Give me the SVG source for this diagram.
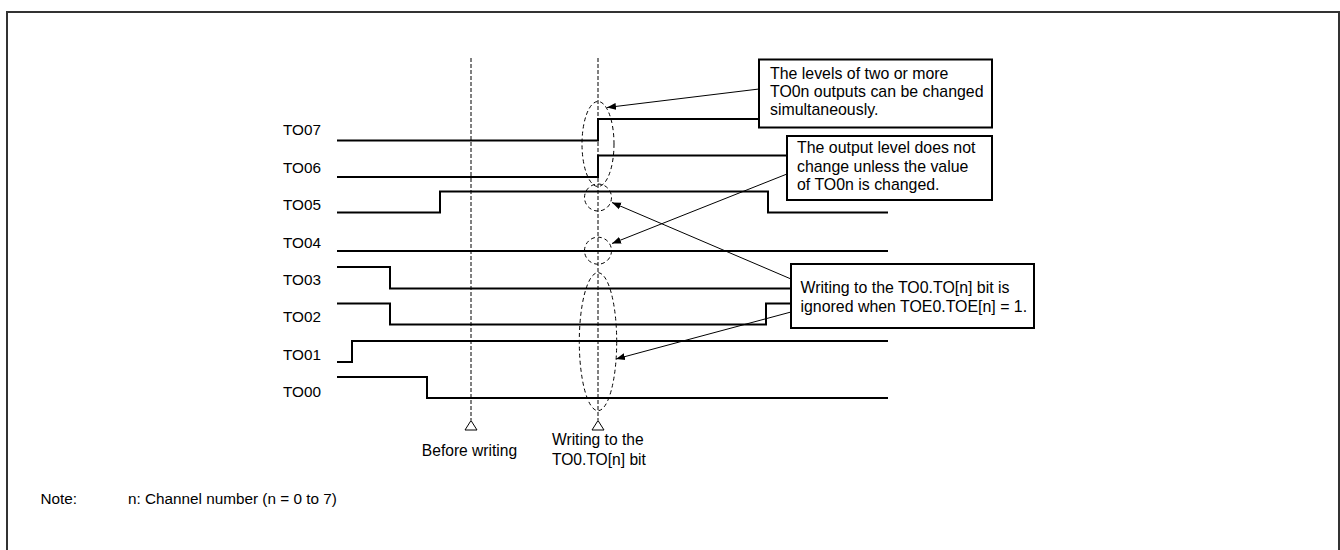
<svg xmlns="http://www.w3.org/2000/svg" width="1340" height="550" viewBox="0 0 1340 550">
<style>
text{font-family:"Liberation Sans",Arial,sans-serif;fill:#000}
.lbl{font-size:15.3px}
.box{font-size:15.9px}
.bt{font-size:15.6px}
.sig{fill:none;stroke:#000;stroke-width:2}
.dash{fill:none;stroke:#000;stroke-width:1;stroke-dasharray:4,2}
.ell{fill:none;stroke:#000;stroke-width:1;stroke-dasharray:4,3}
.frame{fill:#fff;stroke:#000;stroke-width:2}
.arr{fill:none;stroke:#000;stroke-width:1;marker-end:url(#ah)}
.tri{fill:#fff;stroke:#000;stroke-width:1}
</style>
<defs>
<marker id="ah" markerWidth="10" markerHeight="8" refX="9" refY="4" orient="auto" markerUnits="userSpaceOnUse">
<path d="M0,0.5 L9,4 L0,7.5 Z" fill="#000"/>
</marker>
</defs>
<rect x="0" y="0" width="1340" height="550" fill="#fff"/>
<rect x="7" y="12" width="1332" height="560" fill="none" stroke="#333" stroke-width="2"/>

<g id="labels">
<text class="lbl" x="283" y="135">TO07</text>
<text class="lbl" x="283" y="173">TO06</text>
<text class="lbl" x="283" y="210">TO05</text>
<text class="lbl" x="283" y="248">TO04</text>
<text class="lbl" x="283" y="285">TO03</text>
<text class="lbl" x="283" y="322">TO02</text>
<text class="lbl" x="283" y="360">TO01</text>
<text class="lbl" x="283" y="397">TO00</text>
</g>

<g id="signals">
<path id="TO07" class="sig" d="M337,140.5 H598 V119 H759"/>
<path id="TO06" class="sig" d="M337,177 H598 V155.5 H787"/>
<path id="TO05" class="sig" d="M337,212.5 H440 V191.5 H768 V212.5 H888"/>
<path id="TO04" class="sig" d="M337,251 H888"/>
<path id="TO03" class="sig" d="M337,267 H390 V288.5 H791"/>
<path id="TO02" class="sig" d="M337,303.5 H390 V324.5 H766 V303.5 H791"/>
<path id="TO01" class="sig" d="M337,362 H352 V341 H888"/>
<path id="TO00" class="sig" d="M337,377 H427 V398 H888"/>
</g>

<g id="markers">
<line class="dash" x1="471" y1="58" x2="471" y2="420"/>
<line class="dash" x1="598" y1="58" x2="598" y2="420"/>
<polygon class="tri" points="471,420.5 465,430 477,430"/>
<polygon class="tri" points="598,420.5 592,430 604,430"/>
<ellipse class="ell" cx="598" cy="144" rx="16" ry="42.5"/>
<ellipse class="ell" cx="598" cy="197.5" rx="13.5" ry="13.5"/>
<ellipse class="ell" cx="598" cy="250.7" rx="13.5" ry="13.5"/>
<ellipse class="ell" cx="598" cy="341.7" rx="18.7" ry="69"/>
</g>

<g id="box1">
<rect class="frame" x="759" y="59.5" width="233" height="68"/>
<text class="box" x="770" y="78.5">The levels of two or more</text>
<text class="box" x="770" y="96.5">TO0n outputs can be changed</text>
<text class="box" x="770" y="114.5">simultaneously.</text>
</g>

<g id="box2">
<rect class="frame" x="787" y="136" width="205" height="64"/>
<text class="box" x="797" y="153">The output level does not</text>
<text class="box" x="797" y="171.5">change unless the value</text>
<text class="box" x="797" y="190">of TO0n is changed.</text>
</g>

<g id="box3">
<rect class="frame" x="791" y="264" width="243" height="64"/>
<text class="box" x="800.5" y="292.5">Writing to the TO0.TO[n] bit is</text>
<text class="box" x="800.5" y="311.5">ignored when TOE0.TOE[n] = 1.</text>
</g>

<g id="connectors">
<line class="arr" x1="759" y1="89" x2="607" y2="107.5"/>
<line class="arr" x1="787" y1="174" x2="612" y2="243.5"/>
<line class="arr" x1="791" y1="279" x2="612" y2="202.5"/>
<line class="arr" x1="791" y1="312" x2="616" y2="359"/>
</g>

<g id="captions">
<text class="bt" x="469.5" y="455.5" text-anchor="middle">Before writing</text>
<text class="bt" x="552" y="445">Writing to the</text>
<text class="bt" x="552" y="465">TO0.TO[n] bit</text>
<text class="lbl" x="40.5" y="504">Note:</text>
<text class="lbl" x="128" y="504">n: Channel number (n = 0 to 7)</text>
</g>
</svg>
